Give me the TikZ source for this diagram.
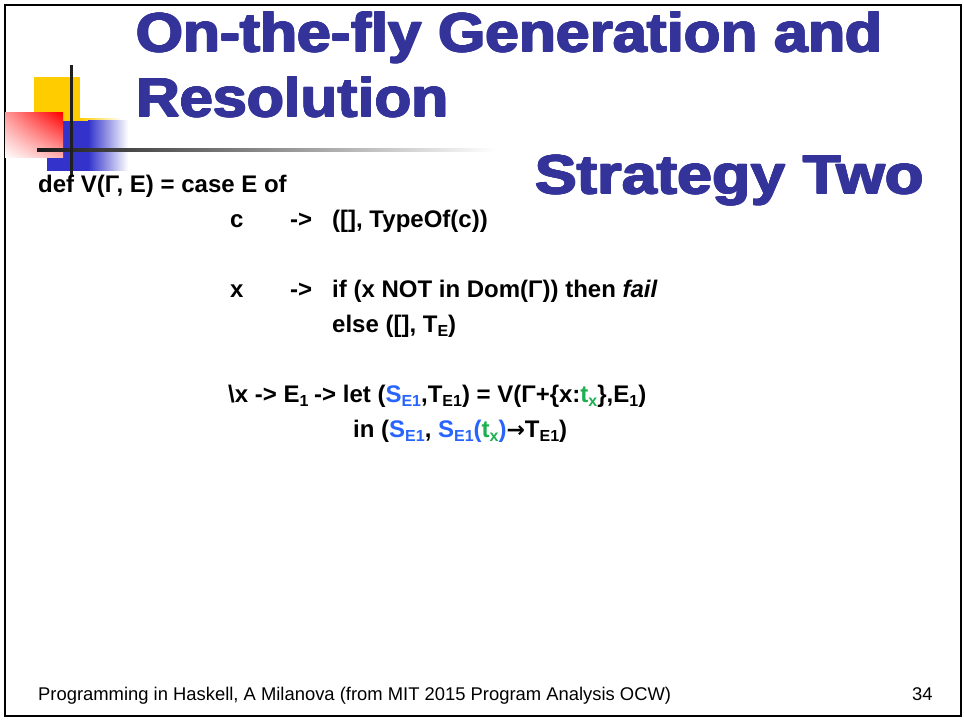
\documentclass[tikz,border=0pt]{standalone}
\usepackage{fontspec}
\usetikzlibrary{shadings}
\setmainfont{Liberation Sans}
\newfontfamily\titlefont[FakeStretch=1.1]{Liberation Sans Bold}
\newfontfamily\symfont{DejaVu Sans}
\definecolor{titleblue}{RGB}{51,51,153}
\definecolor{subblue}{RGB}{40,100,255}
\definecolor{txgreen}{RGB}{30,175,80}
\definecolor{logoyellow}{RGB}{255,204,0}
\definecolor{logoblue}{RGB}{51,51,204}
\newcommand\sbs[1]{\raisebox{-0.2em}{\fontsize{16}{16}\selectfont #1}}
\newcommand\toarrow{{\symfont\fontsize{22}{22}\selectfont →}}
% heavier title lettering: the text laid over itself with small offsets
\newlength\hvy
\setlength\hvy{0.85pt}
\newcommand\hvycopy[3]{\makebox[0pt][l]{\hspace{#1}\raisebox{#2}{#3}}}
\newcommand\heavy[1]{%
  \hvycopy{\hvy}{0pt}{#1}\hvycopy{-\hvy}{0pt}{#1}%
  \hvycopy{0pt}{\hvy}{#1}\hvycopy{0pt}{-\hvy}{#1}%
  \hvycopy{0.7\hvy}{0.7\hvy}{#1}\hvycopy{-0.7\hvy}{0.7\hvy}{#1}%
  \hvycopy{0.7\hvy}{-0.7\hvy}{#1}\hvycopy{-0.7\hvy}{-0.7\hvy}{#1}%
  #1}
\tikzset{
  slidetitle/.style={anchor=base west, inner sep=0pt, text=titleblue,
    font=\titlefont\fontsize{55}{55}\selectfont},
  code/.style={anchor=base west, inner sep=0pt,
    font=\bfseries\fontsize{24}{24}\selectfont},
  foot/.style={anchor=base west, inner sep=0pt,
    font=\fontsize{18.4}{18.4}\selectfont},
}
\begin{document}
\begin{tikzpicture}[x=1pt,y=-1pt]
\useasboundingbox (0,0) rectangle (964,722);
% slide frame
\draw[line width=2pt] (5,5) rectangle (961,716);
% corner logo: squares, fades and cross lines
\fill[logoyellow] (34,77) rectangle (80,121);
\shade[left color=logoyellow, right color=white] (80,119) rectangle (122,121);
\fill[logoblue] (47,121) rectangle (88,171);
\shade[left color=logoblue, right color=white] (88,121) rectangle (128,171);
\shade[upper left=red!40, upper right=red, lower left=white, lower right=red!30]
  (5,113) rectangle (63,158);
\shade[left color=black!90, right color=white] (37,148.5) rectangle (495,151.5);
\draw[line width=3pt, black!88] (71.5,65) -- (71.5,176);
% title
\node[slidetitle] (t1) at (136,52) {\heavy{On-the-fly Generation and}};
\node[slidetitle] (t2) at (136,117) {\heavy{Resolution}};
\node[slidetitle] (t3) at (535,194) {\heavy{\scalebox{1.035}[1]{Strategy Two}}};
% body
\node[code] (def) at (38,193) {def V(Γ, E) = case E of};
\node[code] (c) at (230,228) {c};
\node[code] (ca) at (290,228) {->};
\node[code] (cr) at (332,228) {([], TypeOf(c))};
\node[code] (x) at (230,297) {x};
\node[code] (xa) at (290,297) {->};
\node[code] (xr) at (332,297) {if (x NOT in Dom(Γ)) then \textit{fail}};
\node[code] (xe) at (332,332) {else ([], T\sbs{E})};
\node[code] (lam) at (228,402) {\textbackslash x -> E\sbs{1}};
\node[code] (lamr) at (314,402) {-> let (\textcolor{subblue}{S\sbs{E1}},T\sbs{E1}) = V(Γ+\{x:\textcolor{txgreen}{t\sbs{x}}\},E\sbs{1})};
\node[code] (lamin) at (353,437) {in (\textcolor{subblue}{S\sbs{E1}}, \textcolor{subblue}{S\sbs{E1}(\textcolor{txgreen}{t\sbs{x}})}\toarrow T\sbs{E1})};
% footer
\node[foot] (foot) at (38,700) {Programming in Haskell, A Milanova (from MIT 2015 Program Analysis OCW)};
\node[foot] (page) at (912,700) {34};
\end{tikzpicture}
\end{document}
